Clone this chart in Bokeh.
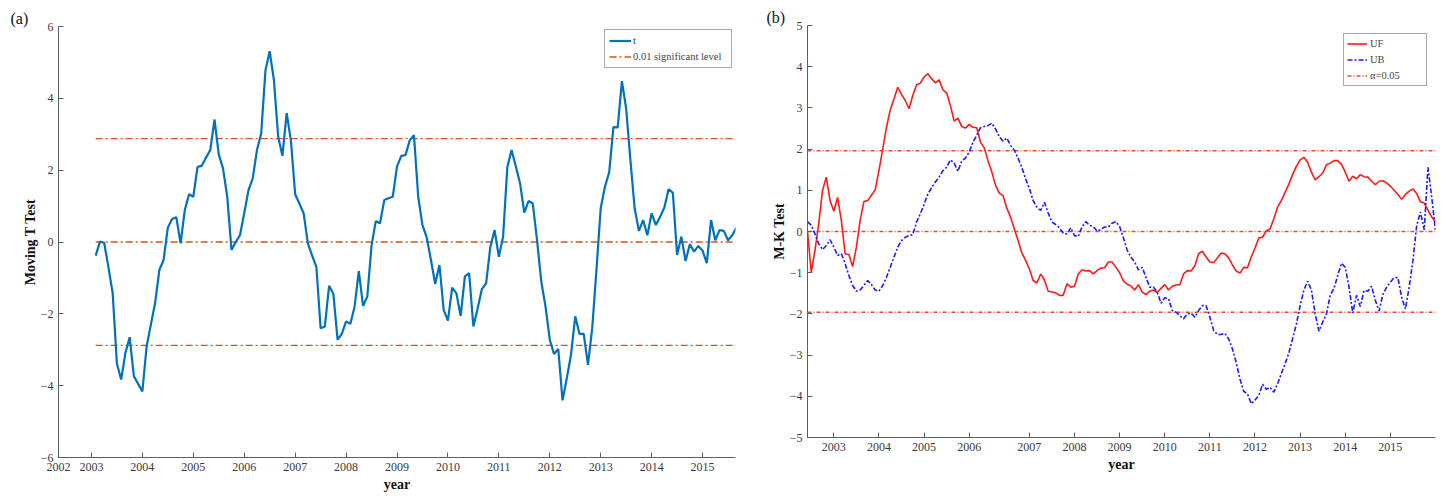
from bokeh.plotting import figure
from bokeh.models import Range1d, FixedTicker, Legend, LegendItem, Spacer
from bokeh.layouts import row, column
from bokeh.embed import file_html
from bokeh.resources import INLINE

SERIF = "Liberation Serif"

# ---------------- Panel (a): moving t-test ----------------
t_start_year = 2003 + 1 / 12
t_values = [
    -0.38, 0.01, -0.02, -0.70, -1.42, -3.39, -3.83, -3.09, -2.65, -3.74, -3.95, -4.16,
    -2.91, -2.30, -1.70, -0.78, -0.50, 0.40, 0.64, 0.69, -0.04, 0.89, 1.33, 1.26,
    2.09, 2.12, 2.35, 2.56, 3.41, 2.44, 2.05, 1.26, -0.22, 0.00, 0.19, 0.80,
    1.44, 1.77, 2.56, 3.02, 4.78, 5.31, 4.50, 2.93, 2.40, 3.59, 2.83, 1.33,
    1.07, 0.80, -0.04, -0.38, -0.69, -2.40, -2.35, -1.22, -1.44, -2.72, -2.56, -2.21,
    -2.28, -1.80, -0.81, -1.78, -1.52, -0.10, 0.58, 0.52, 1.17, 1.22, 1.26, 2.10,
    2.40, 2.42, 2.83, 2.97, 1.26, 0.47, 0.13, -0.50, -1.17, -0.64, -1.89, -2.19,
    -1.27, -1.43, -2.06, -0.96, -0.87, -2.35, -1.85, -1.31, -1.15, -0.13, 0.33, -0.41,
    0.15, 2.09, 2.56, 2.10, 1.63, 0.82, 1.14, 1.07, 0.05, -1.10, -1.80, -2.72,
    -3.12, -2.98, -4.41, -3.80, -3.14, -2.07, -2.56, -2.56, -3.42, -2.40, -0.78, 0.94,
    1.54, 1.94, 3.20, 3.19, 4.48, 3.71, 2.28, 0.94, 0.31, 0.61, 0.19, 0.80,
    0.47, 0.70, 0.96, 1.47, 1.37, -0.36, 0.15, -0.53, -0.06, -0.27, -0.11, -0.24,
    -0.59, 0.61, 0.05, 0.33, 0.31, 0.05, 0.19, 0.40,
]
t_years = [t_start_year + i / 12 for i in range(len(t_values))]
sig_001 = 2.88
a_year_ticks = list(range(2003, 2016))
a_x_start, a_x_end = 2002.353, 2015.647
a_first_label = "2002"
a_y_ticks = [-6, -4, -2, 0, 2, 4, 6]

# ---------------- Panel (b): Mann-Kendall ----------------
uf_values = [
    0.00, -0.99, -0.45, 0.20, 1.00, 1.32, 0.75, 0.49, 0.83, 0.27, -0.54, -0.56,
    -0.85, -0.38, 0.27, 0.73, 0.75, 0.88, 1.01, 1.48, 2.00, 2.53, 2.95, 3.22,
    3.50, 3.33, 3.18, 2.98, 3.30, 3.56, 3.60, 3.75, 3.83, 3.71, 3.61, 3.68,
    3.44, 3.36, 3.06, 2.68, 2.75, 2.55, 2.51, 2.60, 2.53, 2.52, 2.17, 2.03,
    1.72, 1.45, 1.12, 0.93, 0.87, 0.57, 0.35, 0.06, -0.22, -0.52, -0.70, -0.91,
    -1.19, -1.25, -1.03, -1.17, -1.45, -1.47, -1.49, -1.55, -1.55, -1.27, -1.35, -1.33,
    -1.03, -0.93, -0.96, -0.95, -1.03, -0.95, -0.89, -0.88, -0.74, -0.74, -0.87, -1.00,
    -1.20, -1.28, -1.32, -1.42, -1.29, -1.47, -1.53, -1.45, -1.42, -1.48, -1.38, -1.29,
    -1.42, -1.33, -1.30, -1.29, -1.03, -0.95, -0.96, -0.83, -0.54, -0.48, -0.62, -0.74,
    -0.76, -0.64, -0.52, -0.54, -0.64, -0.81, -0.96, -1.01, -0.87, -0.88, -0.62, -0.40,
    -0.16, -0.14, 0.02, 0.06, 0.31, 0.59, 0.75, 0.95, 1.15, 1.38, 1.58, 1.74,
    1.80, 1.68, 1.44, 1.25, 1.33, 1.42, 1.62, 1.66, 1.72, 1.72, 1.63, 1.44,
    1.22, 1.34, 1.28, 1.38, 1.33, 1.32, 1.22, 1.14, 1.22, 1.23, 1.18, 1.10,
    1.00, 0.90, 0.78, 0.90, 0.98, 1.03, 0.92, 0.72, 0.69, 0.52, 0.35, 0.23,
]
ub_values = [
    0.24, 0.15, -0.06, -0.30, -0.44, -0.34, -0.20, -0.38, -0.58, -0.54, -0.78, -1.07,
    -1.31, -1.45, -1.42, -1.31, -1.19, -1.29, -1.42, -1.45, -1.31, -1.11, -0.87, -0.62,
    -0.38, -0.22, -0.14, -0.10, -0.08, 0.23, 0.43, 0.66, 0.91, 1.06, 1.20, 1.32,
    1.48, 1.56, 1.74, 1.66, 1.46, 1.71, 1.78, 1.93, 2.17, 2.33, 2.52, 2.55,
    2.57, 2.63, 2.49, 2.30, 2.19, 2.27, 2.09, 1.97, 1.78, 1.55, 1.28, 1.04,
    0.75, 0.59, 0.51, 0.71, 0.45, 0.23, 0.17, 0.09, -0.04, -0.06, 0.09, -0.10,
    -0.12, 0.11, 0.24, 0.15, 0.12, 0.01, 0.05, 0.11, 0.11, 0.20, 0.24, 0.12,
    -0.15, -0.45, -0.62, -0.74, -0.93, -0.87, -1.11, -1.35, -1.35, -1.47, -1.74, -1.61,
    -1.63, -1.92, -1.96, -2.04, -2.12, -2.00, -1.98, -2.08, -1.92, -1.80, -1.80, -2.08,
    -2.40, -2.50, -2.50, -2.47, -2.61, -2.85, -3.18, -3.58, -3.88, -3.94, -4.18, -4.09,
    -3.98, -3.71, -3.83, -3.78, -3.90, -3.70, -3.45, -3.21, -2.95, -2.60, -2.25, -1.80,
    -1.42, -1.21, -1.42, -2.00, -2.42, -2.20, -2.00, -1.55, -1.38, -1.07, -0.77, -0.87,
    -1.35, -1.98, -1.55, -1.82, -1.43, -1.45, -1.33, -1.67, -1.93, -1.53, -1.35, -1.23,
    -1.12, -1.12, -1.60, -1.88, -1.35, -0.70, 0.15, 0.47, 0.04, 1.56, 0.83, 0.02,
]
b_index = list(range(len(uf_values)))
alpha_005 = 1.96
b_tick_positions = [7, 19, 31, 43, 59, 71, 83, 95, 107, 119, 131, 143, 155]
b_tick_labels = ["2003", "2004", "2005", "2006", "2007", "2008", "2009",
                 "2010", "2011", "2012", "2013", "2014", "2015"]
b_y_ticks = [-5, -4, -3, -2, -1, 0, 1, 2, 3, 4, 5]

AXIS_COLOR = "#5f5f5f"
TICK_TEXT = "#3a3a3a"
LEVEL_COLOR = "#D95319"


def style_axes(p):
    for ax in (p.xaxis[0], p.yaxis[0]):
        ax.axis_line_color = AXIS_COLOR
        ax.major_tick_line_color = AXIS_COLOR
        ax.major_tick_in = 5
        ax.major_tick_out = 0
        ax.minor_tick_line_color = None
        ax.major_label_text_font = SERIF
        ax.major_label_text_font_size = "12px"
        ax.major_label_text_color = TICK_TEXT
        ax.axis_label_text_font = SERIF
        ax.axis_label_text_font_size = "14px"
        ax.axis_label_text_font_style = "bold"
        ax.axis_label_text_color = "#111111"
        ax.major_label_standoff = 5
    p.xaxis[0].axis_label_standoff = 3
    p.yaxis[0].axis_label_standoff = 0
    p.xgrid.grid_line_color = None
    p.ygrid.grid_line_color = None
    p.outline_line_color = None
    p.background_fill_color = "white"
    p.border_fill_color = "white"


def style_tag(p, text, offset):
    p.title.text = text
    p.title.align = "left"
    p.title.offset = offset
    p.title.standoff = 0
    p.title.text_font = SERIF
    p.title.text_font_size = "16px"
    p.title.text_font_style = "normal"
    p.title.text_color = "#111111"


# ---------- figure (a) ----------
pa = figure(width=755, height=496, output_backend="svg", toolbar_location=None,
            x_range=Range1d(a_x_start, a_x_end), y_range=Range1d(-6, 6),
            min_border_left=58, min_border_right=20, min_border_top=26,
            min_border_bottom=39)
style_tag(pa, "(a)", -48)
pa.xaxis.axis_label = "year"
pa.yaxis.axis_label = "Moving T Test"
pa.xaxis.ticker = FixedTicker(ticks=[a_x_start] + a_year_ticks)
overrides = {a_x_start: a_first_label}
overrides.update({y: str(y) for y in a_year_ticks})
pa.xaxis.major_label_overrides = overrides
pa.yaxis.ticker = FixedTicker(ticks=a_y_ticks)
style_axes(pa)

level_x = [t_years[0], t_years[-1]]
r_sig = None
for lv in (sig_001, 0, -sig_001):
    r = pa.line(level_x, [lv, lv], line_color=LEVEL_COLOR, line_width=1.3,
                line_dash="7 3 2 3")
    if r_sig is None:
        r_sig = r
r_t = pa.line(t_years, t_values, line_color="#0072BD", line_width=2.2)

leg_a = Legend(items=[LegendItem(label="t", renderers=[r_t]),
                      LegendItem(label="0.01 significant level", renderers=[r_sig])],
               location="top_right", margin=3, padding=4, spacing=3,
               glyph_width=22, glyph_height=13, label_height=13, label_width=94,
               label_standoff=2, label_text_font=SERIF, label_text_font_size="10.5px",
               border_line_color="#555555", border_line_width=1,
               background_fill_alpha=1.0)
pa.add_layout(leg_a)

# ---------- figure (b) ----------
pb = figure(width=689, height=476, output_backend="svg", toolbar_location=None,
            x_range=Range1d(0, b_index[-1]), y_range=Range1d(-5, 5),
            min_border_left=52, min_border_right=9, min_border_top=25,
            min_border_bottom=39)
style_tag(pb, "(b)", -41)
pb.xaxis.axis_label = "year"
pb.yaxis.axis_label = "M-K Test"
pb.xaxis.ticker = FixedTicker(ticks=b_tick_positions)
pb.xaxis.major_label_overrides = dict(zip(b_tick_positions, b_tick_labels))
pb.yaxis.ticker = FixedTicker(ticks=b_y_ticks)
style_axes(pb)

lvl_x_b = [b_index[0], b_index[-1]]
r_alpha = None
for lv in (alpha_005, 0, -alpha_005):
    r = pb.line(lvl_x_b, [lv, lv], line_color="#E0502A", line_width=1.4,
                line_dash="4 2 1 2")
    if r_alpha is None:
        r_alpha = r
r_uf = pb.line(b_index, uf_values, line_color="#FF1A1A", line_width=1.6)
r_ub = pb.line(b_index, ub_values, line_color="#1A1AFF", line_width=1.6,
               line_dash="5 2 2 2")

leg_b = Legend(items=[LegendItem(label="UF", renderers=[r_uf]),
                      LegendItem(label="UB", renderers=[r_ub]),
                      LegendItem(label="\u03b1=0.05", renderers=[r_alpha])],
               location="top_right", margin=8, padding=3, spacing=3,
               glyph_width=20, glyph_height=13, label_height=13, label_width=53,
               label_standoff=3, label_text_font=SERIF, label_text_font_size="10.5px",
               border_line_color="#555555", border_line_width=1,
               background_fill_alpha=1.0)
pb.add_layout(leg_b)

layout = row(pa, column(pb, Spacer(width=689, height=20)))
open("out.html", "w").write(file_html(layout, INLINE))
